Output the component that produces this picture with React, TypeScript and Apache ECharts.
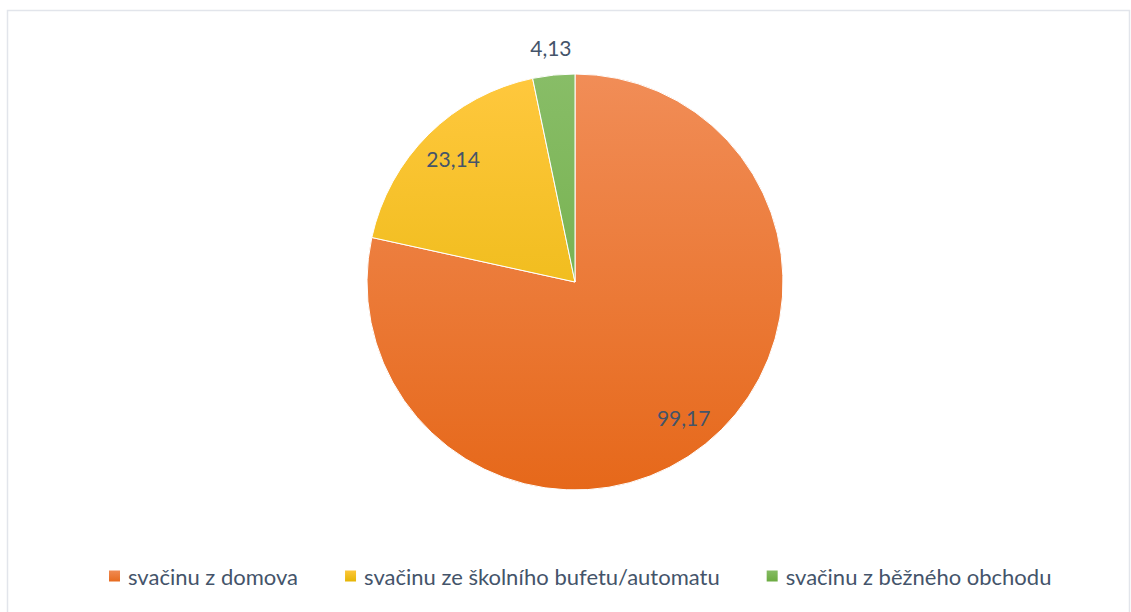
import React, { useEffect, useRef } from "react";
import * as echarts from "echarts";

const categories = ["svačinu z domova", "svačinu ze školního bufetu/automatu", "svačinu z běžného obchodu"];
const values = [99.17, 23.14, 4.13];
const colorTop = ["#F18D57", "#FFC83E", "#88BD67"];
const colorBottom = ["#E6681A", "#E3B300", "#69A93D"];
// radial placement of each label, as a fraction of the pie radius
const labelRadius = [0.81, 0.81, 1.1];

export default function App() {
  const ref = useRef<HTMLDivElement>(null);
  useEffect(() => {
    document.body.style.margin = "0";
    const chart = echarts.init(ref.current!, null, { renderer: "svg" });
    const cx = 575;
    const cy = 282;
    const r = 208;
    const data = categories.map((name, i) => ({
      name,
      value: values[i],
      itemStyle: {
        color: new echarts.graphic.LinearGradient(0, cy - r, 0, cy + r, [
          { offset: 0, color: colorTop[i] },
          { offset: 1, color: colorBottom[i] },
        ], true),
      },
    }));
    chart.setOption({
      animation: false,
      graphic: [
        {
          type: "rect",
          shape: { x: 7.5, y: 10.5, width: 1122, height: 620 },
          style: { fill: "none", stroke: "#E2E5EB", lineWidth: 1.5 },
          silent: true,
        },
      ],
      legend: {
        bottom: 20,
        left: 102,
        itemWidth: 13,
        itemHeight: 13,
        itemGap: 45,
        icon: "rect",
        textStyle: { fontSize: 22, color: "#44546A", fontFamily: "Lato, sans-serif", padding: [0, 0, 0, 2] },
        data: categories.map((name, i) => ({
          name,
          itemStyle: {
            color: new echarts.graphic.LinearGradient(0, 0, 0, 1, [
              { offset: 0, color: colorTop[i] },
              { offset: 1, color: colorBottom[i] },
            ]),
          },
        })),
      },
      series: [
        {
          type: "pie",
          center: [cx, cy],
          radius: [0, r],
          startAngle: 90,
          clockwise: true,
          data,
          itemStyle: { borderColor: "#FFFFFF", borderWidth: 1 },
          label: {
            show: true,
            position: "inside",
            color: "#44546A",
            fontSize: 21,
            fontFamily: "Lato, sans-serif",
            formatter: (p: any) => String(p.value).replace(".", ","),
          },
          labelLine: { show: false },
          labelLayout: (params: any) => {
            const lr = params.labelRect;
            const lx = lr.x + lr.width / 2;
            const ly = lr.y + lr.height / 2;
            const k = labelRadius[params.dataIndex] / 0.5 - 1;
            return { dx: (lx - cx) * k, dy: (ly - cy) * k };
          },
          emphasis: { disabled: true },
        },
      ],
    });
    return () => chart.dispose();
  }, []);
  return <div ref={ref} style={{ width: 1131, height: 612 }} />;
}
